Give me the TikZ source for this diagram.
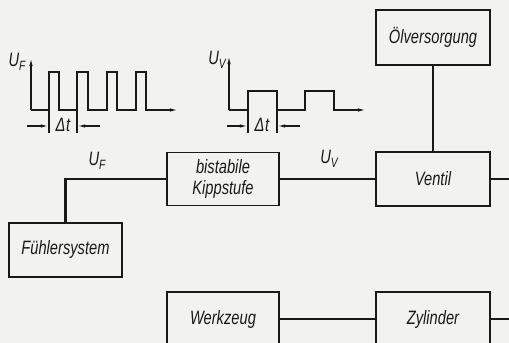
\documentclass[tikz,border=0pt]{standalone}
\usepackage{fontspec}
\setmainfont{Liberation Sans}[FakeStretch=0.76]
\usetikzlibrary{arrows.meta}
\definecolor{paper}{RGB}{242,242,240}
\definecolor{ink}{RGB}{25,25,25}
\newcommand{\lbl}[2]{#1\raisebox{-0.45ex}{\fontsize{11.5}{12}\selectfont #2}}
\begin{document}
\begin{tikzpicture}[x=0.03cm,y=-0.03cm,
  every node/.style={font=\fontsize{16.5}{17.5}\selectfont\itshape, text=ink},
  box/.style={draw=ink, line width=1.3pt, inner sep=0pt, align=center},
  conn/.style={draw=ink, line width=2pt},
  wave/.style={draw=ink, line width=1.1pt},
  axarrow/.style={-{Latex[length=7pt,width=3pt]}},
  dimarrow/.style={-{Latex[length=7pt,width=2.8pt]}}]
\useasboundingbox[fill=paper] (0,0) rectangle (509,343);
\clip (0,0) rectangle (509,343);
% boxes
\node[box, minimum width=114*0.03cm, minimum height=55*0.03cm] (oel) at (433,37.5) {Ölversorgung};
\node[box, minimum width=114*0.03cm, minimum height=54*0.03cm] (ventil) at (433,179) {Ventil};
\node[box, minimum width=112*0.03cm, minimum height=53*0.03cm] (kipp) at (223,179) {bistabile\\Kippstufe};
\node[box, minimum width=113*0.03cm, minimum height=54*0.03cm] (fuehl) at (65.5,250) {Fühlersystem};
\node[box, minimum width=112*0.03cm, minimum height=54*0.03cm] (werk) at (223,319) {Werkzeug};
\node[box, minimum width=114*0.03cm, minimum height=54*0.03cm] (zyl) at (433,319) {Zylinder};
\coordinate (vout) at (509,179);
\coordinate (zout) at (509,319);
% connectors
\draw[conn] (oel.south) -- (ventil.north);
\draw[conn] (ventil.east) -- (vout);
\draw[conn] (kipp.east) -- (kipp.east -| ventil.west);
\draw[conn] (fuehl.north) |- (kipp.west);
\draw[conn] (werk.east) -- (werk.east -| zyl.west);
\draw[conn] (zyl.east) -- (zout);
% signal labels
\node (uf) at (97,161) {\lbl{U}{F}};
\node (uv) at (329,159) {\lbl{U}{V}};
% waveform U_F
\draw[wave, axarrow] (31,110) -- (31,58);
\draw[wave, axarrow] (31,110) -- (49,110) -- (49,72) -- (59,72) -- (59,110)
  -- (77,110) -- (77,72) -- (88,72) -- (88,110)
  -- (107,110) -- (107,72) -- (117,72) -- (117,110)
  -- (136,110) -- (136,72) -- (146,72) -- (146,110) -- (178,110);
\draw[wave] (49,110) -- (49,133);
\draw[wave] (77,110) -- (77,133);
\draw[wave, dimarrow] (27,126) -- (49,126);
\draw[wave, dimarrow] (100,126) -- (77,126);
\node (dtf) at (63,125) {Δ\kern0.5pt t};
\node (ufl) at (17,62) {\lbl{U}{F}};
% waveform U_V
\draw[wave, axarrow] (229,110) -- (229,56);
\draw[wave, axarrow] (229,110) -- (248,110) -- (248,91) -- (277,91) -- (277,110)
  -- (305,110) -- (305,91) -- (334,91) -- (334,110) -- (366,110);
\draw[wave] (248,110) -- (248,133);
\draw[wave] (277,110) -- (277,133);
\draw[wave, dimarrow] (227,126) -- (248,126);
\draw[wave, dimarrow] (300,126) -- (277,126);
\node (dtv) at (262,125) {Δ\kern0.5pt t};
\node (uvl) at (217,60) {\lbl{U}{V}};
\end{tikzpicture}
\end{document}
